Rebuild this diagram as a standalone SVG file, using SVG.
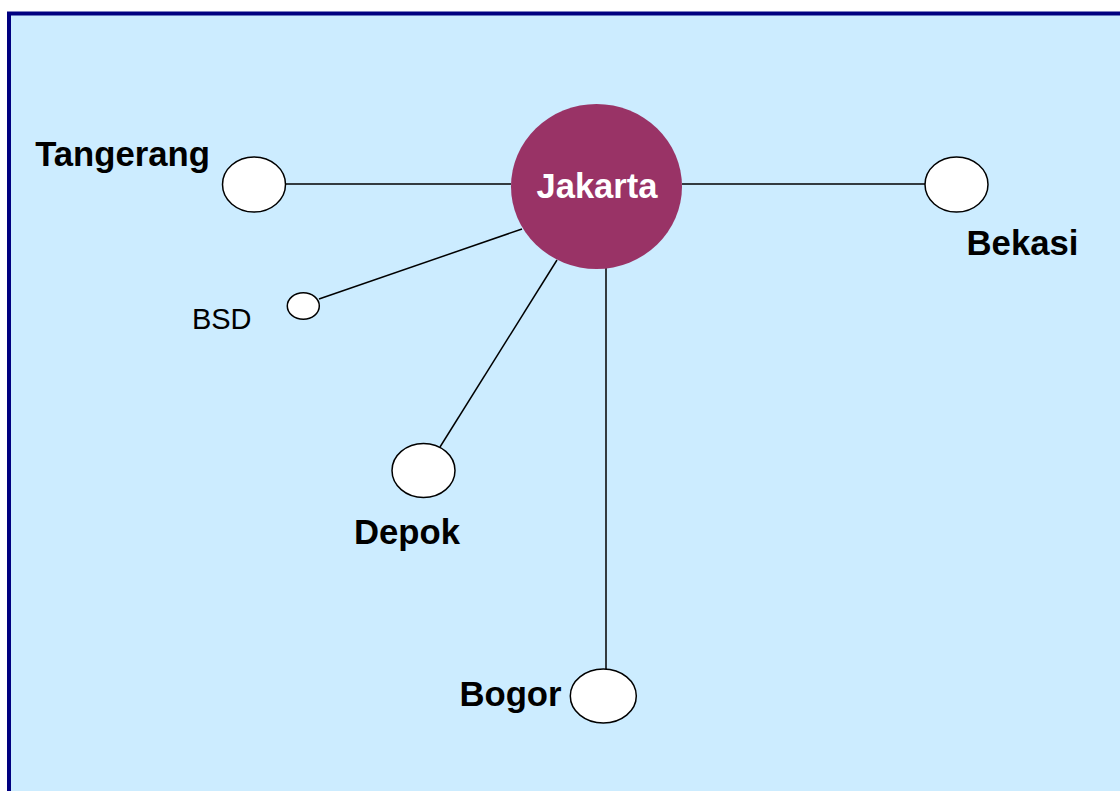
<svg xmlns="http://www.w3.org/2000/svg" width="1120" height="791" viewBox="0 0 1120 791">
<style>
.bg{fill:#CCECFF;stroke:#000080;stroke-width:4}
.city{fill:#FFFFFF;stroke:#000000;stroke-width:1.5}
.hub{fill:#993366;stroke:none}
.lbl{font-family:"Liberation Sans",Arial,sans-serif;font-weight:bold;font-size:34.7px;fill:#000000;text-anchor:middle}
.sml{font-family:"Liberation Sans",Arial,sans-serif;font-size:29px;fill:#000000;text-anchor:middle}
.hubt{font-family:"Liberation Sans",Arial,sans-serif;font-weight:bold;font-size:34.5px;fill:#FFFFFF;text-anchor:middle}
.edge{stroke:#000000;stroke-width:1.5;fill:none}
</style>
<rect x="0" y="0" width="1120" height="791" fill="#FFFFFF"/>
<rect class="bg" x="9" y="13.5" width="1130" height="800"/>
<g id="connectors">
<line class="edge" x1="286" y1="184" x2="511" y2="184"/>
<line class="edge" x1="682" y1="184" x2="925" y2="184"/>
<line class="edge" x1="319" y1="299" x2="522" y2="229"/>
<line class="edge" x1="440" y1="447" x2="557" y2="260"/>
<line class="edge" x1="606" y1="268" x2="606" y2="669"/>
</g>
<g id="jakarta">
<ellipse class="hub" cx="596.5" cy="186.5" rx="85.5" ry="82.5"/>
<text class="hubt" x="597" y="197.5">Jakarta</text>
</g>
<g id="tangerang">
<ellipse class="city" cx="254" cy="184.5" rx="31.5" ry="27.5"/>
<text class="lbl" x="122.5" y="166">Tangerang</text>
</g>
<g id="bekasi">
<ellipse class="city" cx="956.5" cy="184.5" rx="31.5" ry="27.5"/>
<text class="lbl" x="1022.5" y="255">Bekasi</text>
</g>
<g id="bsd">
<ellipse class="city" cx="303.3" cy="306" rx="16" ry="13.3"/>
<text class="sml" x="221.7" y="329">BSD</text>
</g>
<g id="depok">
<ellipse class="city" cx="423.5" cy="470.5" rx="31.5" ry="27"/>
<text class="lbl" x="407" y="544">Depok</text>
</g>
<g id="bogor">
<ellipse class="city" cx="603.3" cy="696" rx="33" ry="27"/>
<text class="lbl" x="510.5" y="706">Bogor</text>
</g>
</svg>
